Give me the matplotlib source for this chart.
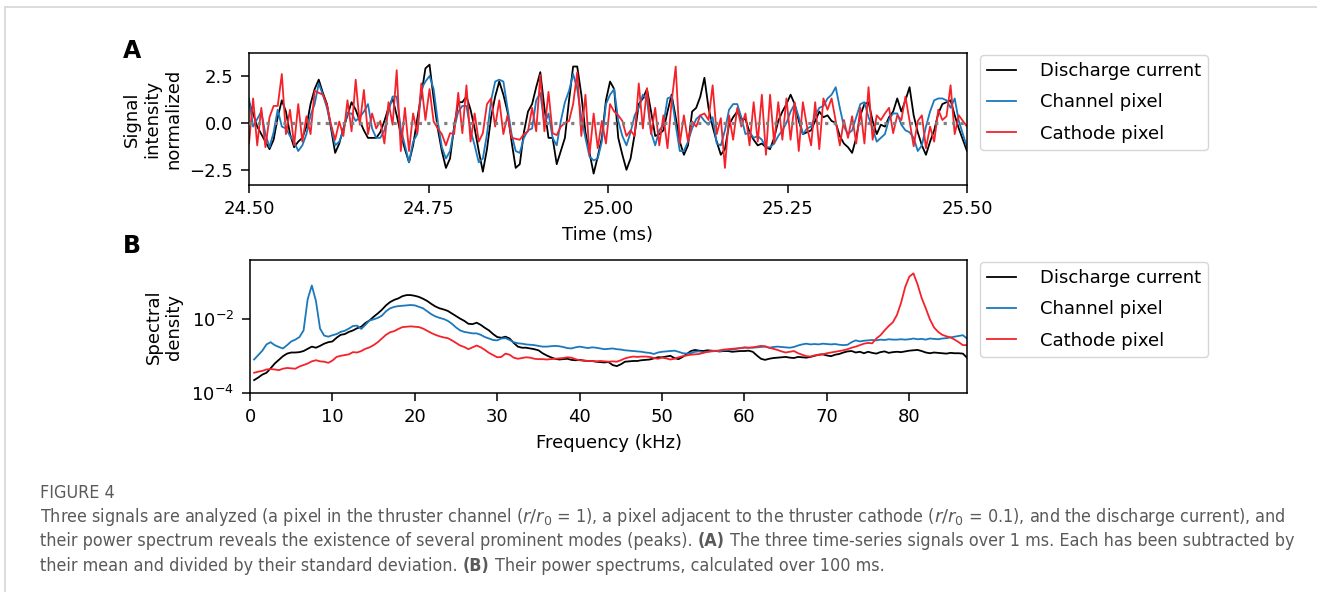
import numpy as np
import matplotlib
matplotlib.use("Agg")
import matplotlib.pyplot as plt
from matplotlib import font_manager
from matplotlib.font_manager import FontProperties
from matplotlib.ticker import NullLocator, FormatStrFormatter


# time window (ms), samples are evenly spaced inside it
time_start = 24.5
time_end = 25.5

discharge_current = [
    1.1, 0.5, -0.2, -0.6, -1.0, -1.4, -0.9, 0.3, 1.2, 0.6,
    -0.6, -1.3, -1.0, -0.8, -0.2, 1.0, 1.8, 2.3, 1.6, 1.0,
    -0.3, -1.6, -1.1, -0.3, 0.4, 1.1, 0.7, 0.1, -0.4, -0.8,
    -0.8, -0.8, -0.5, 0.1, 0.8, 1.3, 0.4, -0.6, -1.4, -2.1,
    -1.2, 0.2, 1.5, 2.9, 3.1, 1.3, -0.3, -1.5, -2.4, -1.9,
    -0.2, 1.1, 1.1, 1.4, 0.7, -0.3, -1.5, -2.6, -1.4, 0.3,
    1.4, 2.2, 1.5, 0.6, -1.0, -2.4, -2.2, -0.5, 0.6, 1.0,
    1.9, 2.7, 0.8, -0.8, -0.8, -2.2, -1.5, -0.8, 1.2, 3.0,
    3.0, 1.5, -0.5, -1.6, -2.7, -1.8, -0.8, 1.2, 2.2, 1.8,
    -0.8, -1.7, -2.5, -1.9, -0.6, 1.0, 1.3, 1.8, 0.6, -0.7,
    -0.6, -0.4, 0.6, 1.5, 0.3, -1.0, -1.7, -1.2, 0.6, 0.8,
    1.4, 2.4, 0.8, -0.2, -1.0, -1.7, -1.4, -0.1, 0.3, 0.6,
    0.2, 0.2, -0.5, -0.9, -1.2, -1.1, -1.3, -1.4, -0.8, 0.1,
    0.6, 1.0, 1.5, 1.0, 0.1, -0.6, -0.5, -0.4, 0.1, 0.6,
    0.3, 0.4, 0.1, 0.0, -0.7, -1.1, -1.3, -1.6, -0.8, 0.4,
    1.0, 1.1, 0.1, -0.6, -0.1, -0.2, 0.3, 0.6, 1.3, 0.6,
    1.2, 1.9, 0.4, -0.5, -1.2, -1.7, -1.0, -0.4, 0.5, 1.0,
    1.1, 1.2, 0.4, -0.3, -0.9, -1.5,
]

channel_pixel = [
    1.3, -0.2, 0.2, 0.6, -0.6, -1.3, -0.5, 0.7, -0.2, -0.3,
    -0.7, -1.0, -1.5, -1.2, -0.6, 0.4, 1.0, 2.1, 1.5, 0.8,
    -0.2, -1.2, -1.0, -0.4, 0.5, 0.5, 0.1, 0.3, 0.6, 1.0,
    -0.3, -0.8, -0.8, -0.4, 0.6, 1.4, 1.4, -0.3, -1.2, -2.1,
    -1.0, -0.6, 1.8, 2.2, 2.5, 1.8, 0.1, -1.3, -1.9, -1.5,
    -0.3, 0.6, 0.9, 0.9, -0.4, -1.2, -2.1, -1.9, -0.6, 1.2,
    2.2, 2.3, 2.2, 0.8, -0.6, -1.5, -1.6, -0.8, -0.4, -0.3,
    1.2, 1.6, -0.1, 0.5, -0.8, -1.2, 0.1, 1.1, 1.7, 2.6,
    1.8, 0.3, -0.8, -1.8, -2.0, -1.9, -1.0, 1.0, 1.5, 1.8,
    0.1, -0.7, -1.2, -0.5, 0.4, 0.8, 1.5, 1.2, -0.5, -1.2,
    -0.4, -0.1, 1.3, 1.4, -0.1, -1.5, -1.5, -1.0, -0.3, 0.2,
    0.4, 0.1, -0.1, 0.3, -1.1, -1.2, -0.4, 0.7, 1.0, 1.0,
    0.3, -0.6, -0.5, -0.8, -0.7, -0.9, -1.3, -1.3, -1.1, -0.7,
    -0.4, 0.0, 0.6, 1.0, 0.3, -0.6, -0.3, -0.2, 0.4, 0.8,
    0.9, 1.3, 1.5, 1.9, 0.8, -0.2, -0.6, -0.4, 0.3, 1.0,
    1.1, 0.3, -0.3, -1.0, -0.8, -0.6, 0.2, 0.5, 0.5, -0.1,
    -0.4, -0.5, -0.8, -1.5, -1.2, -0.2, 0.6, 1.2, 1.3, 1.3,
    1.2, 0.8, 1.3, 0.1, -0.6, -1.3,
]

cathode_pixel = [
    -1.1, 1.3, -1.2, 0.8, -1.3, 0.3, 0.9, 0.9, 2.6, -0.6,
    0.7, -1.2, 1.0, -1.0, 0.35, -0.6, 1.7, 1.6, 1.5, 0.95,
    -0.1, -0.9, 0.07, -0.7, 1.2, -0.45, 2.3, -0.1, 1.75, -0.6,
    0.5, -0.3, 0.1, -1.1, 1.1, -0.1, 2.8, -1.5, 0.8, -1.5,
    0.5, -0.55, 2.1, 0.15, 1.8, 0.07, -0.3, -0.6, -1.2, -0.55,
    -0.6, 1.6, -0.55, 2.0, -1.0, 0.5, -1.0, -0.55, 1.0, 1.3,
    -0.2, 1.2, -0.6, 0.4, -0.8, -0.85, -0.9, -0.6, -0.45, 0.8,
    -0.45, 2.55, -0.45, 1.65, -0.55, -0.65, -0.2, 0.0, 0.1, 1.0,
    2.7, -0.7, 1.5, -1.7, 0.5, -1.35, 0.1, -1.1, 1.0, 0.6,
    0.4, 0.1, -0.7, -0.4, -0.7, 2.1, -0.3, 1.85, -0.6, 0.8,
    -1.2, 0.4, -1.35, 1.1, 3.0, -1.1, 0.4, -1.0, 0.07, -0.2,
    0.4, 0.5, 0.15, 2.0, -0.6, 0.25, -2.4, 0.4, -0.9, 0.8,
    -0.2, 0.5, -1.2, 1.1, -1.0, 1.5, -1.7, 1.5, -1.1, 1.1,
    -0.9, 1.3, -0.9, 1.1, -1.5, 1.1, -0.2, -1.2, 1.1, -1.4,
    1.3, 0.7, 1.3, 0.1, -1.2, 0.15, -0.8, 0.35, -1.1, 0.8,
    -1.1, 1.9, -0.9, 0.4, 0.15, 0.5, 0.8, -0.55, 0.4, 0.15,
    1.4, 0.1, -1.25, 0.1, 0.4, -1.35, -0.2, -1.0, 0.7, 0.15,
    0.35, 2.0, -0.6, 0.4, 0.1, -0.2,
]

# spectra: log10 of the spectral density, every 0.5 kHz from 0.5 to 87 kHz
freq_step = 0.5
spec_discharge_log = [
    -3.65, -3.58, -3.50, -3.45, -3.33, -3.20, -3.10, -3.00, -2.93, -2.90,
    -2.90, -2.89, -2.86, -2.80, -2.74, -2.77, -2.72, -2.66, -2.62, -2.60,
    -2.50, -2.42, -2.40, -2.34, -2.30, -2.24, -2.20, -2.10, -2.03, -1.93,
    -1.84, -1.74, -1.62, -1.53, -1.47, -1.43, -1.37, -1.34, -1.34, -1.36,
    -1.39, -1.44, -1.50, -1.58, -1.65, -1.70, -1.73, -1.77, -1.84, -1.91,
    -1.98, -2.04, -2.12, -2.13, -2.09, -2.15, -2.23, -2.30, -2.40, -2.48,
    -2.50, -2.47, -2.52, -2.64, -2.74, -2.77, -2.77, -2.79, -2.81, -2.84,
    -2.92, -2.98, -3.03, -3.07, -3.09, -3.08, -3.07, -3.10, -3.11, -3.10,
    -3.12, -3.13, -3.13, -3.15, -3.16, -3.17, -3.16, -3.24, -3.27, -3.22,
    -3.15, -3.14, -3.13, -3.13, -3.11, -3.10, -3.09, -3.06, -3.03, -3.03,
    -3.01, -2.99, -3.05, -3.08, -3.02, -2.94, -2.86, -2.83, -2.85, -2.86,
    -2.84, -2.85, -2.86, -2.87, -2.86, -2.86, -2.88, -2.87, -2.86, -2.86,
    -2.85, -2.88, -2.98, -3.07, -3.10, -3.07, -3.05, -3.04, -3.03, -3.02,
    -3.04, -3.05, -3.02, -3.03, -3.04, -3.02, -2.99, -2.96, -2.95, -2.98,
    -3.00, -2.96, -2.94, -2.90, -2.87, -2.86, -2.90, -2.88, -2.92, -2.88,
    -2.91, -2.93, -2.89, -2.87, -2.91, -2.89, -2.88, -2.89, -2.87, -2.85,
    -2.84, -2.83, -2.86, -2.90, -2.92, -2.90, -2.91, -2.92, -2.93, -2.91,
    -2.92, -2.92, -2.93, -3.04,
]

spec_channel_log = [
    -3.09, -2.97, -2.85, -2.68, -2.62, -2.70, -2.75, -2.79, -2.70, -2.60,
    -2.55, -2.48, -2.30, -1.45, -1.08, -1.50, -2.25, -2.44, -2.47, -2.43,
    -2.40, -2.34, -2.31, -2.25, -2.18, -2.17, -2.26, -2.15, -2.03, -2.00,
    -1.96, -1.90, -1.78, -1.70, -1.66, -1.64, -1.63, -1.62, -1.61, -1.62,
    -1.66, -1.70, -1.78, -1.86, -1.92, -1.96, -1.99, -2.04, -2.12, -2.22,
    -2.30, -2.34, -2.36, -2.38, -2.38, -2.42, -2.48, -2.52, -2.56, -2.57,
    -2.52, -2.51, -2.56, -2.62, -2.65, -2.66, -2.68, -2.69, -2.70, -2.72,
    -2.74, -2.74, -2.73, -2.72, -2.73, -2.75, -2.78, -2.79, -2.76, -2.74,
    -2.76, -2.78, -2.76, -2.77, -2.79, -2.81, -2.80, -2.79, -2.81, -2.82,
    -2.84, -2.85, -2.86, -2.87, -2.88, -2.90, -2.91, -2.94, -2.90, -2.88,
    -2.87, -2.86, -2.85, -2.88, -2.92, -2.93, -2.92, -2.88, -2.87, -2.90,
    -2.88, -2.86, -2.85, -2.87, -2.84, -2.83, -2.82, -2.80, -2.78, -2.76,
    -2.77, -2.77, -2.76, -2.75, -2.74, -2.77, -2.75, -2.74, -2.75, -2.76,
    -2.77, -2.75, -2.71, -2.68, -2.66, -2.68, -2.67, -2.68, -2.66, -2.67,
    -2.68, -2.67, -2.69, -2.70, -2.69, -2.62, -2.57, -2.60, -2.58, -2.57,
    -2.56, -2.57, -2.55, -2.56, -2.54, -2.55, -2.55, -2.54, -2.55, -2.54,
    -2.52, -2.54, -2.53, -2.55, -2.52, -2.53, -2.54, -2.52, -2.51, -2.49,
    -2.47, -2.45, -2.43, -2.52,
]

spec_cathode_log = [
    -3.45, -3.42, -3.40, -3.36, -3.35, -3.36, -3.38, -3.34, -3.32, -3.33,
    -3.34, -3.28, -3.24, -3.20, -3.14, -3.11, -3.14, -3.15, -3.18, -3.12,
    -3.02, -2.99, -2.97, -2.95, -2.89, -2.90, -2.86, -2.80, -2.76, -2.70,
    -2.62, -2.52, -2.42, -2.35, -2.32, -2.26, -2.21, -2.20, -2.19, -2.20,
    -2.21, -2.25, -2.31, -2.37, -2.42, -2.46, -2.49, -2.51, -2.57, -2.64,
    -2.71, -2.75, -2.81, -2.76, -2.71, -2.76, -2.83, -2.91, -2.97, -3.03,
    -3.02, -2.93, -2.96, -3.04, -3.07, -3.05, -3.03, -3.04, -3.07, -3.08,
    -3.08, -3.09, -3.08, -3.07, -3.06, -3.05, -3.03, -3.04, -3.08, -3.11,
    -3.12, -3.13, -3.13, -3.14, -3.13, -3.14, -3.15, -3.14, -3.15, -3.11,
    -3.06, -3.03, -3.01, -3.02, -3.01, -3.01, -3.02, -3.05, -3.07, -3.04,
    -3.06, -3.09, -3.07, -3.03, -3.00, -2.98, -2.96, -2.95, -2.94, -2.91,
    -2.88, -2.87, -2.86, -2.84, -2.82, -2.81, -2.80, -2.79, -2.78, -2.77,
    -2.77, -2.76, -2.74, -2.72, -2.73, -2.77, -2.80, -2.83, -2.87, -2.90,
    -2.88, -2.86, -2.92, -2.96, -3.00, -3.01, -2.98, -2.96, -2.95, -2.92,
    -2.90, -2.88, -2.86, -2.84, -2.81, -2.77, -2.74, -2.70, -2.66, -2.64,
    -2.65, -2.52, -2.43, -2.30, -2.18, -2.08, -1.88, -1.55, -1.12, -0.84,
    -0.75, -1.05, -1.42, -1.70, -2.00, -2.22, -2.34, -2.42, -2.46, -2.49,
    -2.55, -2.62, -2.70, -2.70,
]

labels = ["Discharge current", "Channel pixel", "Cathode pixel"]
colors = ["#000000", "#1a78bd", "#f5222a"]

# caption, one list of (text, bold) runs per line
caption_title = "FIGURE 4"
caption_lines = [
    [(r"Three signals are analyzed (a pixel in the thruster channel ($r/r_0$ = 1), a pixel adjacent "
      r"to the thruster cathode ($r/r_0$ = 0.1), and the discharge current), and", False)],
    [("their power spectrum reveals the existence of several prominent modes (peaks).", False),
     ("(A)", True),
     ("The three time-series signals over 1 ms. Each has been subtracted by", False)],
    [("their mean and divided by their standard deviation.", False),
     ("(B)", True),
     ("Their power spectrums, calculated over 100 ms.", False)],
]

W, H = 1317, 592
plt.rcParams["font.size"] = 13
plt.rcParams["axes.linewidth"] = 1.1
for a in ("xtick", "ytick"):
    plt.rcParams[a + ".major.size"] = 6
    plt.rcParams[a + ".major.width"] = 1.1
plt.rcParams["xtick.major.pad"] = 4.5
plt.rcParams["ytick.major.pad"] = 5.5


def caption_fonts():
    # a condensed face if one is installed, else plain DejaVu Sans
    cond = [f for f in font_manager.fontManager.ttflist
            if f.style == "normal" and ("Condensed" in f.name or "Narrow" in f.name
                                        or f.stretch in ("condensed", "semi-condensed"))]
    regular = [f for f in cond if f.weight in (400, "normal", "regular", "book")]
    if regular:
        r = regular[0]
        bold = [f for f in cond if f.name == r.name and f.stretch == r.stretch
                and f.weight in (700, "bold")]
        if bold:
            return FontProperties(fname=r.fname), FontProperties(fname=bold[0].fname)
        return FontProperties(fname=r.fname), FontProperties(fname=r.fname, weight="bold")
    return FontProperties(family="DejaVu Sans"), FontProperties(family="DejaVu Sans", weight="bold")


fig = plt.figure(figsize=(W / 100, H / 100), dpi=100)

# page frame
fig.add_artist(plt.Line2D([5 / W, 1], [1 - 7 / H, 1 - 7 / H], color="#d6d6d6", lw=1.2))
fig.add_artist(plt.Line2D([5 / W, 5 / W], [0, 1 - 7 / H], color="#d6d6d6", lw=1.2))

ax1 = fig.add_axes([249 / W, 1 - 185 / H, 718 / W, 132 / H])
ax2 = fig.add_axes([250 / W, 1 - 393 / H, 717 / W, 133 / H])

t = np.linspace(time_start, time_end, len(discharge_current))
for series, lab, col in zip([discharge_current, channel_pixel, cathode_pixel], labels, colors):
    ax1.plot(t, series, color=col, lw=1.3, label=lab)
ax1.axhline(0, color="#808080", ls=":", lw=2.3, zorder=3)
ax1.set_xlim(time_start, time_end)
ax1.set_ylim(-3.31, 3.72)
ax1.set_xticks([24.5, 24.75, 25.0, 25.25, 25.5])
ax1.xaxis.set_major_formatter(FormatStrFormatter("%.2f"))
ax1.set_yticks([-2.5, 0, 2.5])
ax1.set_xlabel("Time (ms)", labelpad=6)
ax1.set_ylabel("Signal\nintensity\nnormalized")
ax1.yaxis.set_label_coords(-0.093, 0.5)

freq = freq_step * np.arange(1, len(spec_discharge_log) + 1)
for series, lab, col in zip([spec_discharge_log, spec_channel_log, spec_cathode_log], labels, colors):
    ax2.plot(freq, 10 ** np.array(series), color=col, lw=1.3, label=lab)
ax2.set_yscale("log")
ax2.set_xlim(0, 87)
ax2.set_ylim(1e-4, 0.41)
ax2.set_xticks(np.arange(0, 81, 10))
ax2.set_yticks([1e-4, 1e-2])
ax2.yaxis.set_minor_locator(NullLocator())
ax2.set_xlabel("Frequency (kHz)", labelpad=6)
ax2.set_ylabel("Spectral\ndensity")
ax2.yaxis.set_label_coords(-0.093, 0.5)

for ax in (ax1, ax2):
    ax.legend(loc="upper left", bbox_to_anchor=(1 + 13 / 718, 1 - 2 / 132), borderaxespad=0,
              handlelength=1.6, handletextpad=1.3, labelspacing=0.73, fontsize=13)

fig.text(123 / W, 1 - 58 / H, "A", fontsize=17, fontweight="bold", va="baseline")
fig.text(123 / W, 1 - 253 / H, "B", fontsize=17, fontweight="bold", va="baseline")

# caption, fitted so that the widest line ends where it does in the figure
cap_color = "#5a5a5a"
cap_reg, cap_bold = caption_fonts()
renderer = fig.canvas.get_renderer()


def text_width(s, fp, size):
    tx = fig.text(0, 0, s, fontproperties=fp, fontsize=size)
    w = tx.get_window_extent(renderer).width
    tx.remove()
    return w


def line_width(runs, size):
    sp = text_width("a a", cap_reg, size) - text_width("aa", cap_reg, size)
    return sum(text_width(s, cap_bold if b else cap_reg, size) for s, b in runs) + sp * (len(runs) - 1)


base = 13.5
cap_size = base * (1297 - 40) / line_width(caption_lines[1], base)
space_w = text_width("a a", cap_reg, cap_size) - text_width("aa", cap_reg, cap_size)

fig.text(40 / W, 1 - 498 / H, caption_title, fontproperties=cap_reg, fontsize=cap_size,
         color=cap_color, va="baseline")
for k, runs in enumerate(caption_lines):
    x = 40.0
    y = 1 - (522 + 24.3 * k) / H
    for j, (s, bold) in enumerate(runs):
        if j > 0:
            x += space_w
        tx = fig.text(x / W, y, s, fontproperties=cap_bold if bold else cap_reg, fontsize=cap_size,
                      color=cap_color, va="baseline")
        x += tx.get_window_extent(renderer).width

fig.savefig("out.png", dpi=100)
